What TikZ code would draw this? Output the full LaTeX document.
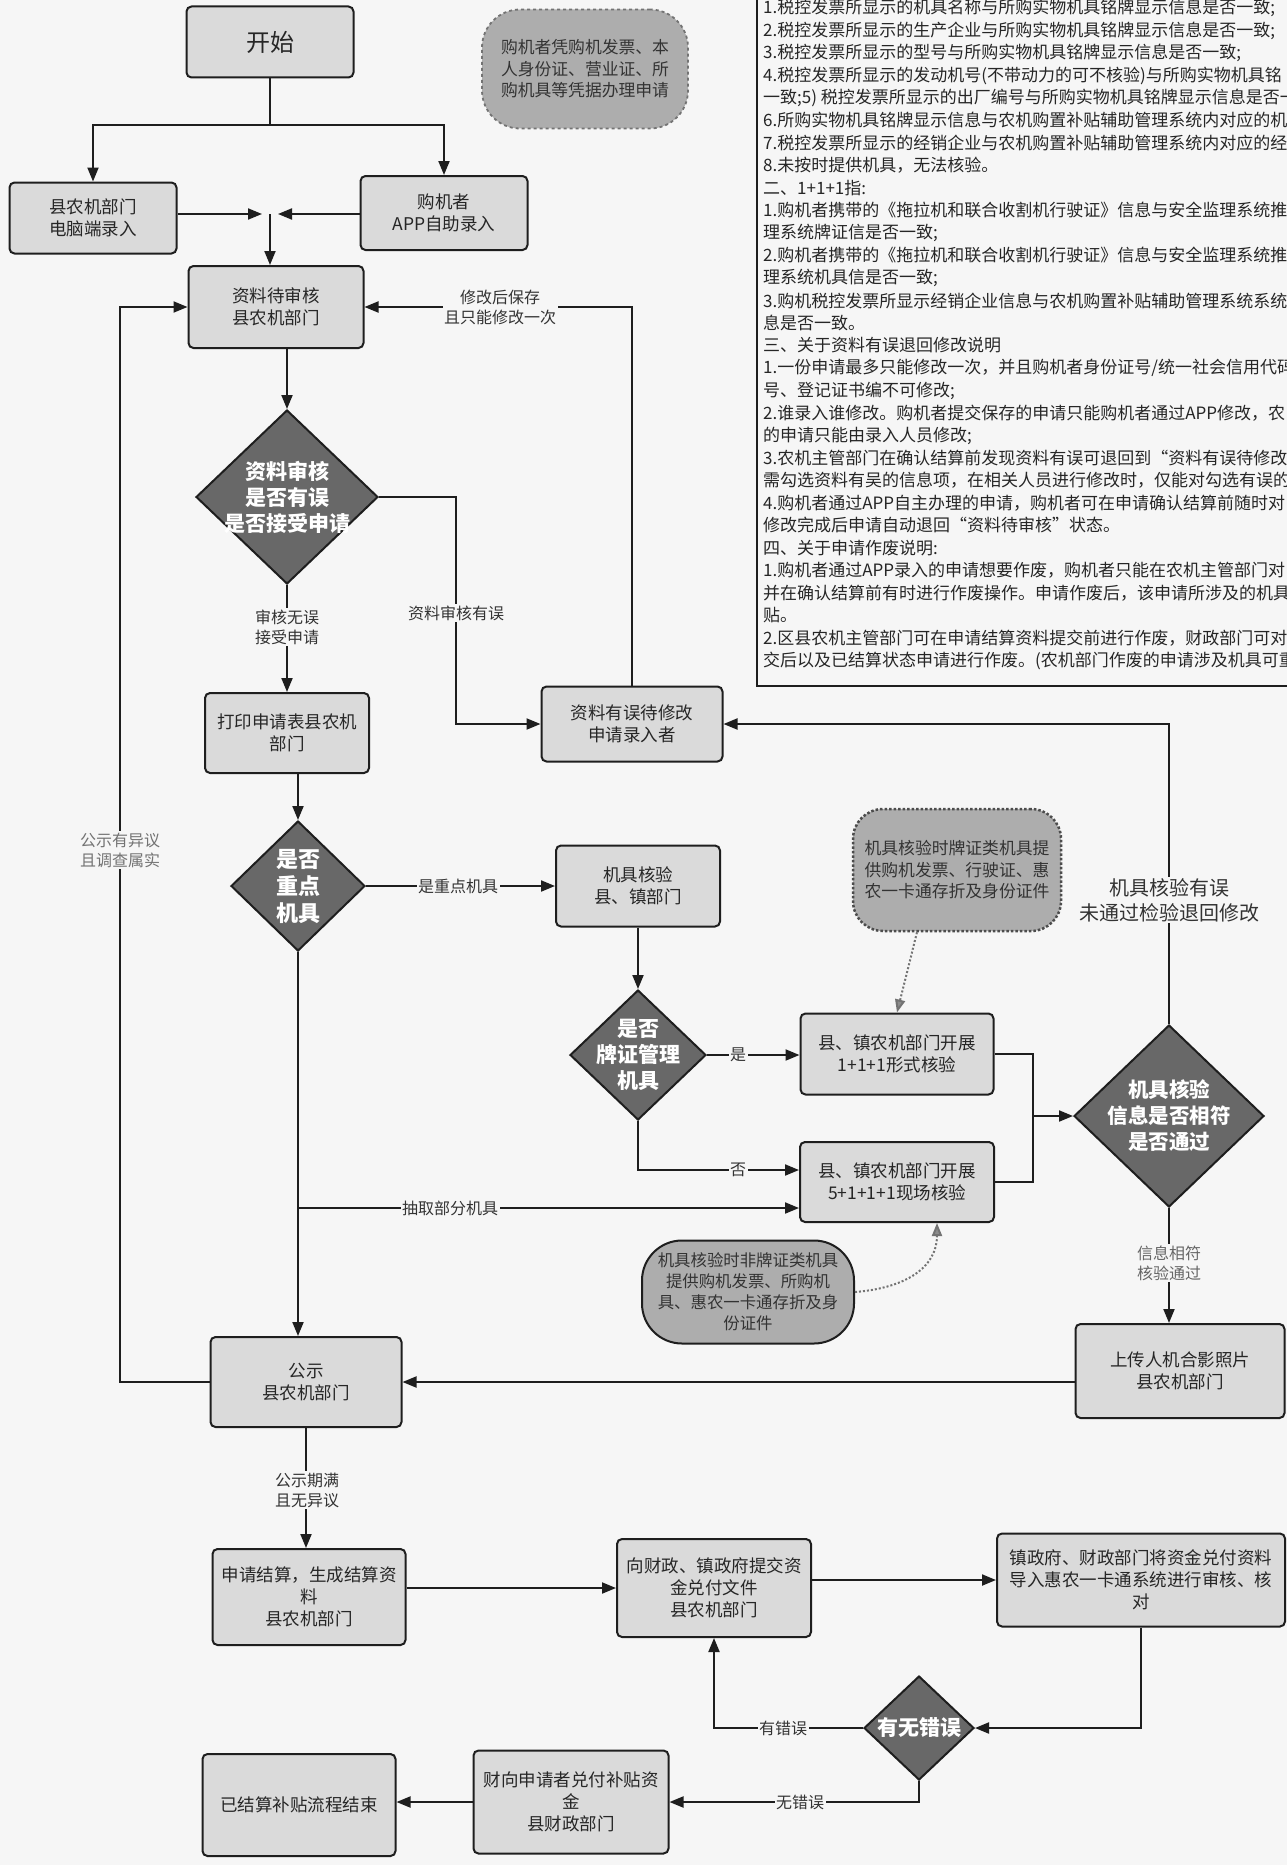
\documentclass[tikz,border=0pt]{standalone}
\usepackage{fontspec}
\setmainfont{Noto Sans CJK SC}
\usetikzlibrary{shapes.geometric,arrows.meta,calc}
\definecolor{bgc}{HTML}{F6F6F6}
\definecolor{boxc}{HTML}{DADADA}
\definecolor{diac}{HTML}{686868}
\definecolor{notec}{HTML}{ADADAD}
\definecolor{linec}{HTML}{1E1E1E}
\definecolor{labc}{HTML}{333333}
\begin{document}
\begin{tikzpicture}[x=1pt,y=-1pt,
  box/.style={draw=linec, line width=2pt, fill=boxc, rounded corners=5pt, align=center, inner sep=0pt, text=black!85, font=\fontsize{17.5}{22}\selectfont},
  dia/.style={diamond, draw=linec, line width=2pt, fill=diac, inner sep=0pt},
  diat/.style={align=center, text=white, font=\bfseries\fontsize{21}{26}\selectfont, inner sep=0pt},
  note/.style={fill=notec, align=center, inner sep=0pt, font=\fontsize{16.8}{21.5}\selectfont, text=black!80},
  lab/.style={fill=bgc, inner sep=1.5pt, align=center, text=labc, font=\fontsize{16}{20}\selectfont},
  arr/.style={draw=linec, line width=2pt, -{Triangle[length=14pt,width=11pt]}},
  ln/.style={draw=linec, line width=2pt},
  txt/.style={anchor=west, inner sep=0pt, text=black!85, font=\fontsize{17}{22}\selectfont},
  dotarr/.style={draw=black!55, line width=2pt, dotted, -{Triangle[length=13pt,width=10pt,fill=black!45]}}
]
\useasboundingbox (0,0) rectangle (1287,1865);
\fill[bgc] (0,0) rectangle (1287,1865);

% ---------- text box (top right) ----------
\begin{scope}
\clip (0,0) rectangle (1287,1865);
\draw[linec, line width=2.5pt] (1300,686) -- (757,686) -- (757,-5);
\node[txt] (t1) at (763,8) {1.税控发票所显示的机具名称与所购实物机具铭牌显示信息是否一致;};
\node[txt] (t2) at (763,30.5) {2.税控发票所显示的生产企业与所购实物机具铭牌显示信息是否一致;};
\node[txt] (t3) at (763,53) {3.税控发票所显示的型号与所购实物机具铭牌显示信息是否一致;};
\node[txt] (t4) at (763,75.5) {4.税控发票所显示的发动机号(不带动力的可不核验)与所购实物机具铭};
\node[txt] (t5) at (763,98) {一致;5) 税控发票所显示的出厂编号与所购实物机具铭牌显示信息是否一};
\node[txt] (t6) at (763,120.5) {6.所购实物机具铭牌显示信息与农机购置补贴辅助管理系统内对应的机};
\node[txt] (t7) at (763,143) {7.税控发票所显示的经销企业与农机购置补贴辅助管理系统内对应的经};
\node[txt] (t8) at (763,165.5) {8.未按时提供机具，无法核验。};
\node[txt] (t9) at (763,188) {二、1+1+1指:};
\node[txt] (t10) at (763,210.5) {1.购机者携带的《拖拉机和联合收割机行驶证》信息与安全监理系统推};
\node[txt] (t11) at (763,233) {理系统牌证信是否一致;};
\node[txt] (t12) at (763,255.5) {2.购机者携带的《拖拉机和联合收割机行驶证》信息与安全监理系统推};
\node[txt] (t13) at (763,278) {理系统机具信是否一致;};
\node[txt] (t14) at (763,300.5) {3.购机税控发票所显示经销企业信息与农机购置补贴辅助管理系统系统};
\node[txt] (t15) at (763,323) {息是否一致。};
\node[txt] (t16) at (763,345.5) {三、关于资料有误退回修改说明};
\node[txt] (t17) at (763,368) {1.一份申请最多只能修改一次，并且购机者身份证号/统一社会信用代码};
\node[txt] (t18) at (763,390.5) {号、登记证书编不可修改;};
\node[txt] (t19) at (763,413) {2.谁录入谁修改。购机者提交保存的申请只能购机者通过APP修改，农};
\node[txt] (t20) at (763,435.5) {的申请只能由录入人员修改;};
\node[txt] (t21) at (763,458) {3.农机主管部门在确认结算前发现资料有误可退回到“资料有误待修改};
\node[txt] (t22) at (763,480.5) {需勾选资料有吴的信息项，在相关人员进行修改时，仅能对勾选有误的};
\node[txt] (t23) at (763,503) {4.购机者通过APP自主办理的申请，购机者可在申请确认结算前随时对};
\node[txt] (t24) at (763,525.5) {修改完成后申请自动退回“资料待审核”状态。};
\node[txt] (t25) at (763,548) {四、关于申请作废说明:};
\node[txt] (t26) at (763,570.5) {1.购机者通过APP录入的申请想要作废，购机者只能在农机主管部门对};
\node[txt] (t27) at (763,593) {并在确认结算前有时进行作废操作。申请作废后，该申请所涉及的机具};
\node[txt] (t28) at (763,615.5) {贴。};
\node[txt] (t29) at (763,638) {2.区县农机主管部门可在申请结算资料提交前进行作废，财政部门可对申};
\node[txt] (t30) at (763,660.5) {交后以及已结算状态申请进行作废。(农机部门作废的申请涉及机具可重};
\end{scope}

% ---------- notes ----------
\node[note, draw=black!55, line width=1.8pt, dashed, rounded corners=38pt, minimum width=206pt, minimum height=119pt] (note1) at (585,69) {购机者凭购机发票、本\\人身份证、营业证、所\\购机具等凭据办理申请};
\node[note, draw=black!70, line width=2.5pt, dotted, rounded corners=30pt, minimum width=208pt, minimum height=122pt] (note2) at (957,870) {机具核验时牌证类机具提\\供购机发票、行驶证、惠\\农一卡通存折及身份证件};
\node[note, draw=linec, line width=2pt, rounded corners=40pt, minimum width=212pt, minimum height=103pt, font=\fontsize{16.4}{21}\selectfont] (note3) at (748,1292) {机具核验时非牌证类机具\\提供购机发票、所购机\\具、惠农一卡通存折及身\\份证件};

% ---------- boxes ----------
\node[box, minimum width=167pt, minimum height=71pt, font=\fontsize{24}{28}\selectfont] (start) at (270,42) {开始};
\node[box, minimum width=167pt, minimum height=71pt] (pc) at (93,218) {县农机部门\\电脑端录入};
\node[box, minimum width=167pt, minimum height=74pt] (app) at (444,213) {购机者\\APP自助录入};
\node[box, minimum width=175pt, minimum height=82pt] (review) at (276,307) {资料待审核\\县农机部门};
\node[box, minimum width=164pt, minimum height=80pt] (print) at (287,733) {打印申请表县农机\\部门};
\node[box, minimum width=181pt, minimum height=75pt] (wrong) at (632,724) {资料有误待修改\\申请录入者};
\node[box, minimum width=164pt, minimum height=81pt] (check) at (638,886) {机具核验\\县、镇部门};
\node[box, minimum width=193pt, minimum height=81pt] (c111) at (897,1054) {县、镇农机部门开展\\1+1+1形式核验};
\node[box, minimum width=194pt, minimum height=80pt] (c5111) at (897,1182) {县、镇农机部门开展\\5+1+1+1现场核验};
\node[box, minimum width=209pt, minimum height=94pt] (upload) at (1180,1371) {上传人机合影照片\\县农机部门};
\node[box, minimum width=191pt, minimum height=90pt] (gongshi) at (306,1382) {公示\\县农机部门};
\node[box, minimum width=193pt, minimum height=96pt] (jiesuan) at (309,1597) {申请结算，生成结算资\\料\\县农机部门};
\node[box, minimum width=194pt, minimum height=98pt] (fin) at (714,1588) {向财政、镇政府提交资\\金兑付文件\\县农机部门};
\node[box, minimum width=288pt, minimum height=93pt] (town) at (1141,1580) {镇政府、财政部门将资金兑付资料\\导入惠农一卡通系统进行审核、核\\对};
\node[box, minimum width=195pt, minimum height=103pt] (pay) at (571,1802) {财向申请者兑付补贴资\\金\\县财政部门};
\node[box, minimum width=193pt, minimum height=102pt] (end) at (299,1805) {已结算补贴流程结束};

% ---------- diamonds ----------
\node[dia, minimum width=182pt, minimum height=174pt] (d1) at (287,497) {};
\node[diat] (d1t) at (d1) {资料审核\\是否有误\\是否接受申请};
\node[dia, minimum width=134pt, minimum height=130pt] (d2) at (298,886) {};
\node[diat, font=\bfseries\fontsize{22}{27}\selectfont] (d2t) at (d2) {是否\\重点\\机具};
\node[dia, minimum width=136pt, minimum height=130pt] (d3) at (638,1055) {};
\node[diat] (d3t) at (d3) {是否\\牌证管理\\机具};
\node[dia, minimum width=190pt, minimum height=182pt] (d4) at (1169,1116) {};
\node[diat, font=\bfseries\fontsize{20.5}{26}\selectfont] (d4t) at (d4) {机具核验\\信息是否相符\\是否通过};
\node[dia, minimum width=110pt, minimum height=104pt] (d5) at (919,1728) {};
\node[diat] (d5t) at (d5) {有无错误};

% ---------- coordinates ----------
\coordinate (split) at (270,125);
\coordinate (merge) at (270,214);
\coordinate (rerr) at (456,497);
\coordinate (br) at (298,1208);
\coordinate (jn) at (1033,1116);
\coordinate (lp) at (120,1382);

% ---------- connectors ----------
\draw[ln] (start.south) -- (split);
\draw[arr] (split) -| (pc.north);
\draw[arr] (split) -| (app.north);
\draw[arr] (pc.east |- merge) -- ([xshift=-8pt]merge);
\draw[arr] (app.west |- merge) -- ([xshift=8pt]merge);
\draw[arr] (merge) -- (merge |- review.north);
\draw[arr] (d1.north |- review.south) -- (d1.north);
\draw[arr] (d1.south) -- (print.north);
\draw[arr] (d1.east) -- (rerr) |- (wrong.west);
\draw[arr] (wrong.north) |- (review.east);
\draw[arr] (d2.north |- print.south) -- (d2.north);
\draw[arr] (d2.east) -- (d2.east -| check.west);
\draw[arr] (d2.south) -- (d2.south |- gongshi.north);
\draw[arr] (br) -- (br -| c5111.west);
\draw[arr] (check.south) -- (d3.north);
\draw[arr] (d3.east) -- (d3.east -| c111.west);
\draw[arr] (d3.south) |- ($(c5111.west)+(0,-12)$);
\draw[ln] (c111.east) -| (jn);
\draw[ln] (c5111.east) -| (jn);
\draw[arr] (jn) -- (d4.west);
\draw[arr] (d4.north) |- (wrong.east);
\draw[arr] (d4.south) -- (d4.south |- upload.north);
\draw[arr] (upload.west |- gongshi.east) -- (gongshi.east);
\draw[arr] (gongshi.west) -- (lp) |- (review.west);
\draw[arr] (gongshi.south) -- (gongshi.south |- jiesuan.north);
\draw[arr] (jiesuan.east |- fin.west) -- (fin.west);
\draw[arr] (fin.east |- town.west) -- (town.west);
\draw[arr] (town.south) |- (d5.east);
\draw[arr] (d5.west) -| (fin.south);
\draw[arr] (d5.south) |- (pay.east);
\draw[arr] (pay.west) -- (pay.west -| end.east);
\draw[dotarr] ($(note2.south)+(-40,0)$) -- (c111.north);
\draw[dotarr] (note3.east) .. controls (905,1288) and (937,1268) .. ($(c5111.south)+(40,0)$);

% ---------- connector labels ----------
\node[lab] (l1) at (500,307) {修改后保存\\且只能修改一次};
\node[lab] (l2) at (287,627) {审核无误\\接受申请};
\node[lab] (l3) at (456,613) {资料审核有误};
\node[lab] (l4) at (458,886) {是重点机具};
\node[lab] (l5) at (738,1055) {是};
\node[lab] (l6) at (738,1170) {否};
\node[lab] (l7) at (450,1208) {抽取部分机具};
\node[lab, font=\fontsize{20}{25}\selectfont] (l8) at (1169,900) {机具核验有误\\未通过检验退回修改};
\node[lab, text=black!60] (l9) at (1169,1263) {信息相符\\核验通过};
\node[lab, text=black!55] (l10) at (120,850) {公示有异议\\且调查属实};
\node[lab] (l11) at (307,1490) {公示期满\\且无异议};
\node[lab] (l12) at (783,1728) {有错误};
\node[lab] (l13) at (800,1802) {无错误};
\end{tikzpicture}
\end{document}
